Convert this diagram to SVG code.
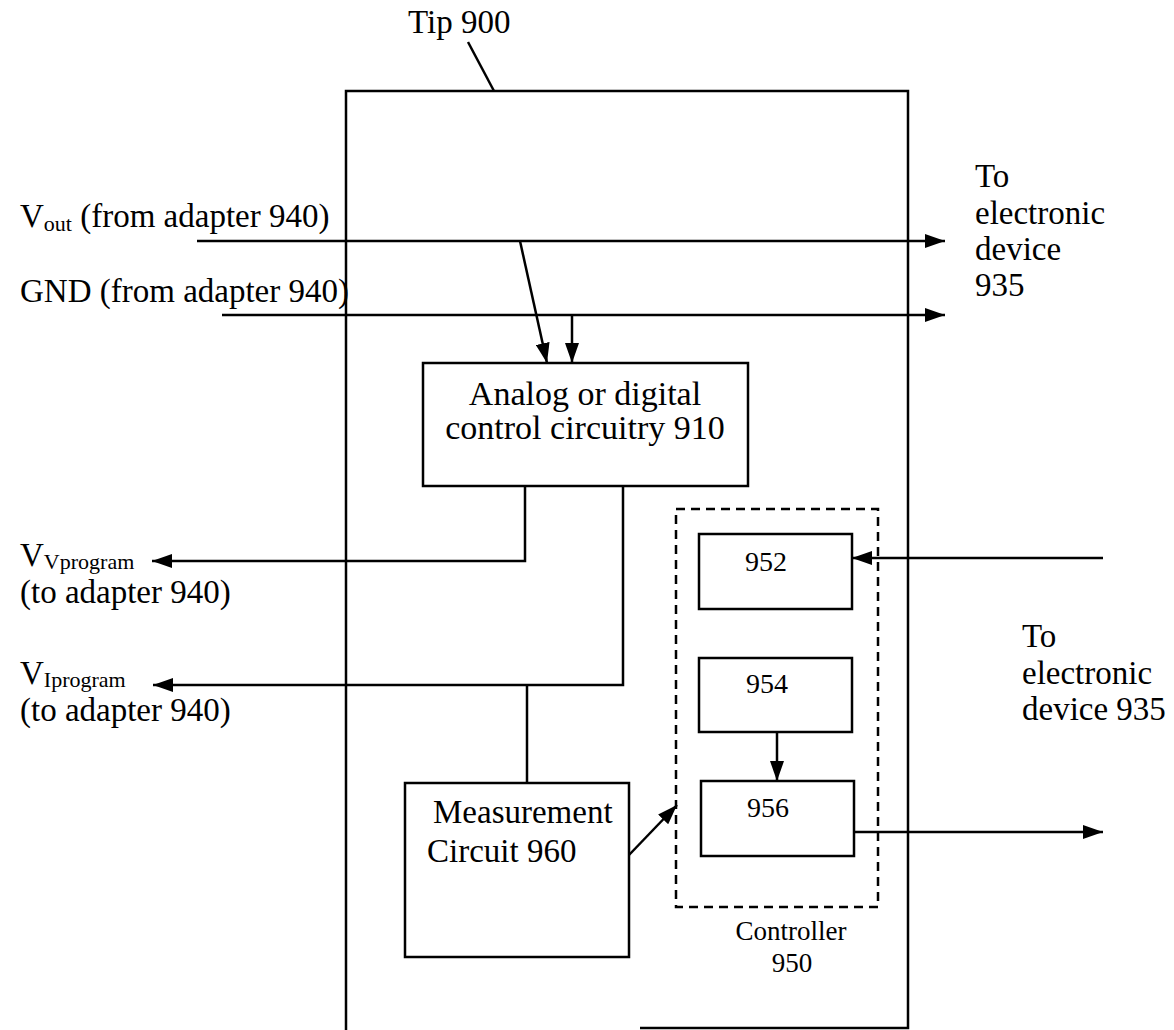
<svg xmlns="http://www.w3.org/2000/svg" width="1174" height="1030" viewBox="0 0 1174 1030">
<defs>
<marker id="arr" viewBox="0 0 20 14" refX="20" refY="7" markerWidth="20" markerHeight="14" markerUnits="userSpaceOnUse" orient="auto">
<path d="M0,0 L20,7 L0,14 Z" fill="#000"/>
</marker>
<style>
.t{font-family:"Liberation Serif","Times New Roman",serif;font-size:33px;fill:#000}
.b{font-family:"Liberation Serif","Times New Roman",serif;font-size:34px;fill:#000}
.s{font-size:22px}
.m{font-family:"Liberation Serif","Times New Roman",serif;font-size:28px;fill:#000}
.c{font-family:"Liberation Serif","Times New Roman",serif;font-size:27px;fill:#000}
.box{fill:none;stroke:#000;stroke-width:2.5}
.dash{fill:none;stroke:#000;stroke-width:2.5;stroke-dasharray:9,6}
.ln{fill:none;stroke:#000;stroke-width:2.5}
.ar{fill:none;stroke:#000;stroke-width:2.5;marker-end:url(#arr)}
</style>
</defs>
<rect width="1174" height="1030" fill="#fff"/>
<g id="tip900">
<path class="box" d="M346,1030 V91 H908 V1028 H640"/>
<text class="t" x="408" y="33">Tip 900</text>
<line class="ln" x1="468" y1="42" x2="494" y2="91"/>
</g>
<g id="labels">
<text class="t" x="20" y="227">V<tspan class="s" dy="4">out</tspan><tspan dy="-4"> (from adapter 940)</tspan></text>
<text class="t" x="20" y="302">GND (from adapter 940)</text>
<text class="t" x="20" y="566">V<tspan class="s" dy="3">Vprogram</tspan></text>
<text class="t" x="20" y="603">(to adapter 940)</text>
<text class="t" x="20" y="684">V<tspan class="s" dy="3">Iprogram</tspan></text>
<text class="t" x="20" y="721">(to adapter 940)</text>
<text class="t" x="975" y="187">To</text>
<text class="t" x="975" y="224">electronic</text>
<text class="t" x="975" y="260">device</text>
<text class="t" x="975" y="296">935</text>
<text class="t" x="1022" y="647">To</text>
<text class="t" x="1022" y="684">electronic</text>
<text class="t" x="1022" y="720">device 935</text>
</g>
<g id="n910">
<rect class="box" x="423" y="363" width="325" height="123"/>
<text class="b" x="585" y="405" text-anchor="middle">Analog or digital</text>
<text class="b" x="585" y="439" text-anchor="middle">control circuitry 910</text>
</g>
<g id="n960">
<rect class="box" x="405" y="783" width="224" height="174"/>
<text class="t" x="433" y="823">Measurement</text>
<text class="t" x="427" y="862">Circuit 960</text>
</g>
<g id="n950">
<rect class="dash" x="676" y="509" width="202" height="398"/>
<text class="c" x="791" y="940" text-anchor="middle">Controller</text>
<text class="c" x="792" y="972" text-anchor="middle">950</text>
</g>
<g id="n952">
<rect class="box" x="699" y="534" width="153" height="75"/>
<text class="m" x="766" y="571" text-anchor="middle">952</text>
</g>
<g id="n954">
<rect class="box" x="699" y="658" width="153" height="74"/>
<text class="m" x="767" y="693" text-anchor="middle">954</text>
</g>
<g id="n956">
<rect class="box" x="701" y="781" width="153" height="75"/>
<text class="m" x="768" y="817" text-anchor="middle">956</text>
</g>
<g id="connectors">
<path class="ar" d="M197,241 H945"/>
<path class="ar" d="M222,315 H945"/>
<path class="ar" d="M520,241 L547,363"/>
<path class="ar" d="M572,315 V363"/>
<path class="ar" d="M525,486 V561 H152"/>
<path class="ar" d="M623,486 V685 H153"/>
<path class="ln" d="M527,685 V783"/>
<path class="ar" d="M629,855 L677,805"/>
<path class="ar" d="M1103,558 H852"/>
<path class="ar" d="M777,732 V781"/>
<path class="ar" d="M854,832 H1103"/>
</g>
</svg>
